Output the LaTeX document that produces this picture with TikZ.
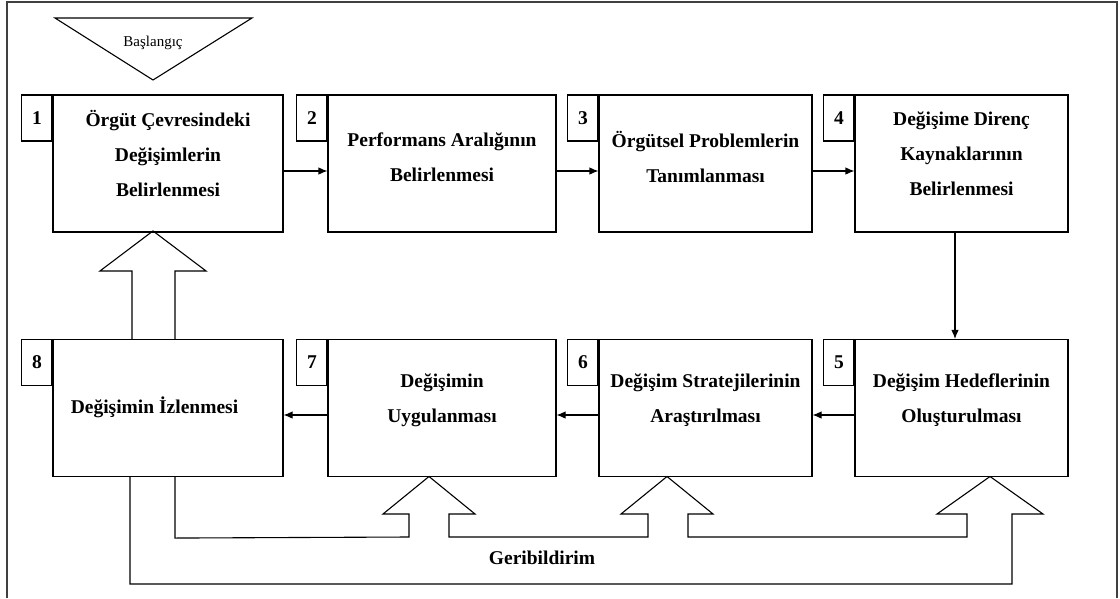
\documentclass[tikz,border=0pt]{standalone}
\usepackage{fontspec}
\setmainfont{Liberation Serif}
\usetikzlibrary{positioning, arrows.meta}

\begin{document}
\begin{tikzpicture}[x=1pt, y=-1pt]
  % Define styles for nodes
  \tikzset{
    stepbox/.style={rectangle, draw, line width=1.1pt, minimum height=137pt, inner sep=0pt},
    numbox/.style={rectangle, draw, line width=1.1pt, minimum width=30pt, minimum height=46pt,
      inner sep=0pt, anchor=north east, font=\fontsize{19.5}{19.5}\selectfont\bfseries},
    boxtext/.style={align=center, font=\fontsize{19.5}{35}\selectfont\bfseries},
    flow/.style={-{Latex[length=9pt,width=7.5pt]}, line width=1.1pt},
    hollow/.style={line width=1.1pt, line join=miter},
    frame/.style={line width=2.5pt, draw=black!75}
  }
  \useasboundingbox (0,0) rectangle (1120,598);
  \draw[frame] (7,598) |- (1117,2) -- (1117,598);

  % Start marker
  \draw[hollow] (55,18) -- (252,18) -- (153,80) -- cycle;
  \node[font=\fontsize{15}{15}\selectfont] (start) at (153,43) {Başlangıç};

  % Step boxes, top row
  \node[stepbox, minimum width=230pt] (box1) at (168,163.5) {};
  \node[stepbox, minimum width=228pt] (box2) at (442,163.5) {};
  \node[stepbox, minimum width=213pt] (box3) at (705.5,163.5) {};
  \node[stepbox, minimum width=213pt] (box4) at (961.5,163.5) {};

  % Step boxes, bottom row
  \node[stepbox, minimum width=230pt] (box8) at (168,408) {};
  \node[stepbox, minimum width=228pt] (box7) at (442,408) {};
  \node[stepbox, minimum width=213pt] (box6) at (705.5,408) {};
  \node[stepbox, minimum width=213pt] (box5) at (961.5,408) {};

  % Step numbers
  \foreach \n in {1,...,8}
    \node[numbox] (num\n) at (box\n.north west) {\n};

  % Step texts
  \node[boxtext] (text1) at ([yshift=10pt]box1.center) {Örgüt Çevresindeki\\Değişimlerin\\Belirlenmesi};
  \node[boxtext] (text2) at ([yshift=6.5pt]box2.center) {Performans Aralığının\\Belirlenmesi};
  \node[boxtext] (text3) at ([yshift=6.5pt]box3.center) {Örgütsel Problemlerin\\Tanımlanması};
  \node[boxtext] (text4) at ([yshift=10pt]box4.center) {Değişime Direnç\\Kaynaklarının\\Belirlenmesi};
  \node[boxtext] (text5) at ([yshift=7.5pt]box5.center) {Değişim Hedeflerinin\\Oluşturulması};
  \node[boxtext] (text6) at ([yshift=7.5pt]box6.center) {Değişim Stratejilerinin\\Araştırılması};
  \node[boxtext] (text7) at ([yshift=7.5pt]box7.center) {Değişimin\\Uygulanması};
  \node[boxtext] (text8) at ([xshift=-13.5pt,yshift=1pt]box8.center) {Değişimin İzlenmesi};

  % Draw the flow between the steps
  \draw[flow] ([yshift=-7.5pt]box1.east) -- ([yshift=-7.5pt]box2.west);
  \draw[flow] ([yshift=-7.5pt]box2.east) -- ([yshift=-7.5pt]box3.west);
  \draw[flow] ([yshift=-7.5pt]box3.east) -- ([yshift=-7.5pt]box4.west);
  \draw[flow] ([xshift=-6.5pt]box4.south) -- ([xshift=-6.5pt]box5.north);
  \draw[flow] ([yshift=-7pt]box5.west) -- ([yshift=-7pt]box6.east);
  \draw[flow] ([yshift=-7pt]box6.west) -- ([yshift=-7pt]box7.east);
  \draw[flow] ([yshift=-7pt]box7.west) -- ([yshift=-7pt]box8.east);

  % Hollow arrow from step 8 back to step 1
  \draw[hollow] ([xshift=-36pt]box8.north) -- ++(0,-68) -- ++(-32,0) -- ++(53,-40)
    -- ++(53,40) -- ++(-31,0) -- ++(0,68);

  % Feedback lines with hollow arrows into steps 7, 6 and 5
  \draw[hollow] ([xshift=7pt]box8.south) -- ++(0,61)
    -- (409,537) -- (409,514) -- (383,514) -- (429,476.5) -- (475,514) -- (449,514) -- (449,537)
    -- (648,537) -- (648,514) -- (621,514) -- (667,476.5) -- (713,514) -- (688,514) -- (688,537)
    -- (967,537) -- (967,514) -- (937,514) -- (990,476.5) -- (1043,514) -- (1012,514)
    -- (1012,584) -- (130,584) -- ([xshift=-38pt]box8.south);
  \node[boxtext] (feedback) at (542,558) {Geribildirim};
\end{tikzpicture}
\end{document}
